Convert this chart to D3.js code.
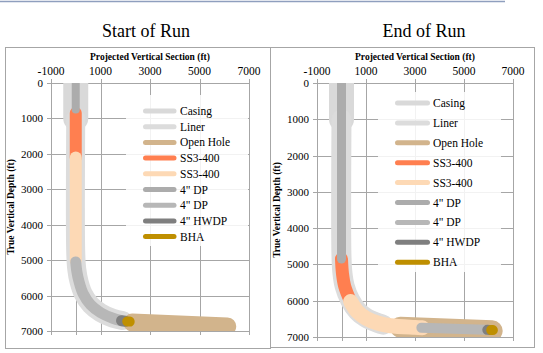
<!DOCTYPE html>
<html lang="en">
<head>
<meta charset="UTF-8">
<title>Start of Run / End of Run</title>
<style>
  body { margin: 0; background: #fff; }
  text { font-family: "Liberation Serif", "Times New Roman", serif; fill: #000; }
</style>
</head>
<body>
<script src="https://cdn.jsdelivr.net/npm/d3@7/dist/d3.min.js"></script>
<script>
// axis ticks
var xTicks = [-1000, 1000, 3000, 5000, 7000];
var xMinorTicks = [-1000, 0, 1000, 3000, 5000, 7000];
var yTicks = [0, 1000, 2000, 3000, 4000, 5000, 6000, 7000];

var legendNames = ['Casing', 'Liner', 'Open Hole', 'SS3-400', 'SS3-400', '4" DP', '4" DP', '4" HWDP', 'BHA'];

// well components, [vertical section ft, true vertical depth ft]
var startCasing = [[0, 0], [0, 1000]];
var startLiner = [[0, 1000], [0, 4800], [40, 5250], [130, 5600], [300, 5950], [600, 6260], [1000, 6480], [1500, 6640], [1900, 6705]];
var startOpenHole = [[2280, 6760], [6120, 6870]];
var startSS3a = [[0, 850], [0, 2100]];
var startSS3b = [[0, 2100], [0, 5000]];
var startDP1 = [[0, 0], [0, 750]];
var startDP2 = [[0, 5050], [40, 5300], [130, 5600], [300, 5950], [600, 6260], [1000, 6480], [1500, 6640], [1800, 6700]];
var startHWDP = [[1850, 6710], [2000, 6725]];
var startBHA = [[2080, 6730], [2180, 6735]];

var endCasing = [[0, 0], [0, 1000]];
var endLiner = [[0, 1000], [0, 4800], [40, 5250], [130, 5600], [350, 5980], [650, 6280], [1000, 6470], [1500, 6620], [1700, 6660]];
var endOpenHole = [[2400, 6730], [6150, 6830]];
var endSS3a = [[0, 4850], [40, 5250], [130, 5600], [370, 6020]];
var endSS3b = [[370, 6020], [650, 6300], [1000, 6480], [1500, 6620], [2000, 6690], [3000, 6735], [3300, 6745]];
var endDP1 = [[0, 0], [0, 4850]];
var endDP2 = [[3260, 6745], [5900, 6800]];
var endHWDP = [[5950, 6802], [6050, 6805]];
var endBHA = [[6110, 6808], [6180, 6810]];

// styles
var seriesColors = ['#d9d9d9', '#dcdcdc', '#d2b48c', '#ff7f50', '#fdd9b5', '#acacac', '#b7b7b7', '#7f7f7f', '#bf8f00'];
var startWidths = [25, 19, 18, 12, 12, 8, 11, 11, 10];
var endWidths = [25, 20, 21, 13, 15, 9, 10, 10, 10];

var svg = d3.select('body').append('svg')
    .attr('width', 543)
    .attr('height', 353);

// thin rule at the top of the page
svg.append('line')
    .attr('x1', 0).attr('x2', 505)
    .attr('y1', 1.5).attr('y2', 1.5)
    .attr('stroke', '#8f9fbe')
    .attr('stroke-width', 1.5);

function drawChart(cfg) {
    var g = svg.append('g');

    g.append('rect')
        .attr('x', cfg.frame[0] + 0.5).attr('y', cfg.frame[1] + 0.5)
        .attr('width', cfg.frame[2]).attr('height', cfg.frame[3])
        .attr('fill', '#fff')
        .attr('stroke', '#a6a6a6');

    g.append('text')
        .attr('x', cfg.titleX).attr('y', 37)
        .attr('text-anchor', 'middle')
        .style('font-size', '18px')
        .text(cfg.title);

    var x = d3.scaleLinear().domain([-1000, 7000]).range([cfg.left, cfg.right]);
    var y = d3.scaleLinear().domain([0, 7000]).range([cfg.top, cfg.bottom]);

    var grid = g.append('g').attr('stroke', '#a6a6a6').attr('stroke-width', 1);

    // horizontal grid lines + small ticks on the left
    grid.selectAll('.hg')
        .data(yTicks)
        .enter()
        .append('line')
        .attr('x1', cfg.left - 4).attr('x2', cfg.right)
        .attr('y1', function(d) { return Math.round(y(d)) + 0.5; })
        .attr('y2', function(d) { return Math.round(y(d)) + 0.5; });

    // vertical grid lines
    grid.selectAll('.vg')
        .data(xTicks)
        .enter()
        .append('line')
        .attr('x1', function(d) { return Math.round(x(d)) + 0.5; })
        .attr('x2', function(d) { return Math.round(x(d)) + 0.5; })
        .attr('y1', cfg.top - 4).attr('y2', cfg.bottom);

    // value axis at vs = 0 and ticks under the bottom line
    grid.append('line')
        .attr('x1', Math.round(x(0)) + 0.5).attr('x2', Math.round(x(0)) + 0.5)
        .attr('y1', cfg.top).attr('y2', cfg.bottom);
    grid.selectAll('.bt')
        .data(xMinorTicks)
        .enter()
        .append('line')
        .attr('x1', function(d) { return Math.round(x(d)) + 0.5; })
        .attr('x2', function(d) { return Math.round(x(d)) + 0.5; })
        .attr('y1', cfg.bottom).attr('y2', cfg.bottom + 4);

    g.selectAll('.xl')
        .data(xTicks)
        .enter()
        .append('text')
        .attr('x', function(d) { return x(d); })
        .attr('y', cfg.top - 8)
        .attr('text-anchor', 'middle')
        .style('font-size', '11.5px')
        .text(function(d) { return d; });

    g.selectAll('.yl')
        .data(yTicks)
        .enter()
        .append('text')
        .attr('x', cfg.left - 8)
        .attr('y', function(d) { return y(d) + 4; })
        .attr('text-anchor', 'end')
        .style('font-size', '11px')
        .text(function(d) { return d; });

    g.append('text')
        .attr('x', (cfg.left + cfg.right) / 2).attr('y', 60)
        .attr('text-anchor', 'middle')
        .style('font-size', '9.5px').style('font-weight', 'bold')
        .text('Projected Vertical Section (ft)');

    g.append('text')
        .attr('transform', 'translate(' + cfg.yTitleX + ',' + ((cfg.top + cfg.bottom) / 2) + ') rotate(-90)')
        .attr('text-anchor', 'middle')
        .style('font-size', '9.5px').style('font-weight', 'bold')
        .text('True Vertical Depth (ft)');

    // well string, clipped to the plot area
    g.append('clipPath').attr('id', cfg.id)
        .append('rect')
        .attr('x', cfg.left).attr('y', cfg.top)
        .attr('width', cfg.right - cfg.left).attr('height', cfg.bottom - cfg.top);

    var line = d3.line()
        .x(function(d) { return x(d[0]); })
        .y(function(d) { return y(d[1]); })
        .curve(d3.curveCatmullRom.alpha(0.5));

    g.append('g').attr('clip-path', 'url(#' + cfg.id + ')')
        .selectAll('path')
        .data(cfg.series)
        .enter()
        .append('path')
        .attr('d', line)
        .attr('fill', 'none')
        .attr('stroke', function(d, i) { return seriesColors[i]; })
        .attr('stroke-width', function(d, i) { return cfg.widths[i]; })
        .attr('stroke-linecap', 'round')
        .attr('stroke-linejoin', 'round');

    // legend
    var lg = g.append('g');
    lg.append('rect')
        .attr('x', cfg.legend.x).attr('y', cfg.legend.y)
        .attr('width', cfg.legend.w).attr('height', cfg.legend.h)
        .attr('fill', '#fff').attr('fill-opacity', 0.85);

    var item = lg.selectAll('.item')
        .data(legendNames)
        .enter()
        .append('g')
        .attr('transform', function(d, i) {
            return 'translate(0,' + (cfg.legend.first + i * cfg.legend.step) + ')';
        });

    item.append('line')
        .attr('x1', cfg.legend.lineX1).attr('x2', cfg.legend.lineX2)
        .attr('stroke', function(d, i) { return seriesColors[i]; })
        .attr('stroke-width', 5)
        .attr('stroke-linecap', 'round');

    item.append('text')
        .attr('x', cfg.legend.textX)
        .attr('y', 4)
        .style('font-size', '11.5px')
        .text(function(d) { return d; });
}

drawChart({
    id: 'clipStart',
    title: 'Start of Run',
    titleX: 146,
    frame: [5, 47, 265, 301],
    left: 51, right: 249, top: 83, bottom: 331,
    yTitleX: 14,
    series: [startCasing, startLiner, startOpenHole, startSS3a, startSS3b, startDP1, startDP2, startHWDP, startBHA],
    widths: startWidths,
    legend: {x: 126, y: 95, w: 122, h: 151, first: 111, step: 15.7, lineX1: 145.5, lineX2: 174, textX: 180}
});

drawChart({
    id: 'clipEnd',
    title: 'End of Run',
    titleX: 424,
    frame: [270, 47, 264, 300],
    left: 317, right: 513, top: 83, bottom: 337,
    yTitleX: 280,
    series: [endCasing, endLiner, endOpenHole, endSS3a, endSS3b, endDP1, endDP2, endHWDP, endBHA],
    widths: endWidths,
    legend: {x: 378, y: 92, w: 123, h: 180, first: 103, step: 19.9, lineX1: 397.5, lineX2: 427.5, textX: 433}
});
</script>
</body>
</html>
